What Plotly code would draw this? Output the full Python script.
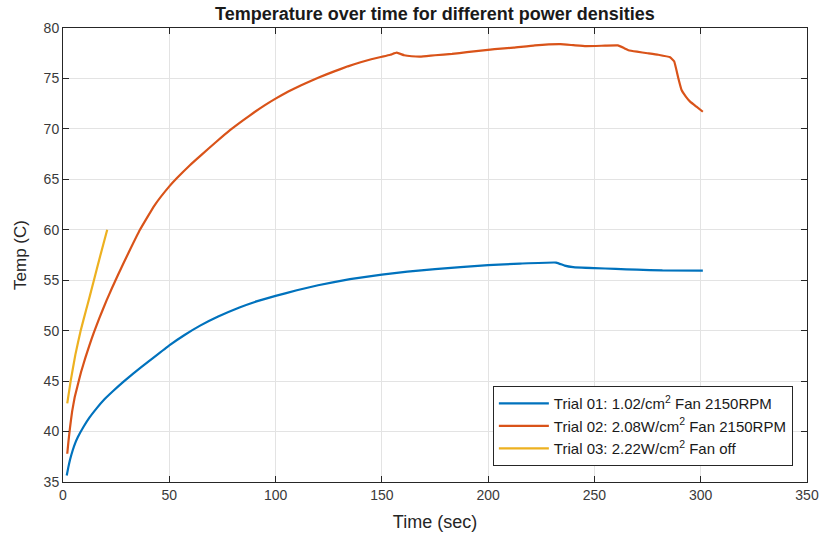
import plotly.graph_objects as go

# Trial 01: 1.02/cm2, fan 2150RPM
t1 = [1.75, 2.5, 3.3, 4.5, 5.65, 7, 9.6, 12.5, 15.8, 19.5, 23.7, 28.5, 33, 40.9, 50, 57, 64.5, 73, 83, 91,
      100, 110, 120, 135, 150, 162, 175, 187, 200, 215, 232, 236, 240, 250, 260, 270, 282, 301]
T1 = [35.64, 36.45, 37.2, 38.1, 38.8, 39.45, 40.45, 41.4, 42.3, 43.2, 44.05, 44.95, 45.75, 47.05, 48.55, 49.55, 50.5, 51.4, 52.3, 52.9,
      53.45, 54.0, 54.5, 55.1, 55.55, 55.85, 56.1, 56.3, 56.5, 56.65, 56.75, 56.45, 56.3, 56.2, 56.12, 56.05, 55.97, 55.95]

# Trial 02: 2.08W/cm2, fan 2150RPM
t2 = [2.0, 2.6, 3.3, 4.3, 5.5, 6.8, 8.5, 10.5, 12.5, 14.5, 17, 20.5, 23, 25.8, 31, 36.2, 43, 50, 53.5, 59.7,
      65, 72, 78.7, 85, 90, 95, 100, 106, 111.8, 116, 120.3, 127.6, 134, 140, 145, 150, 154, 157, 160.5, 164,
      168, 175, 183, 190, 201, 203, 212, 222, 234, 240, 246, 255, 261, 264, 266, 270, 275, 280, 285.6, 287.5,
      289.5, 291, 293, 295, 298, 301]
T2 = [37.8, 39.1, 40.4, 42.0, 43.4, 44.5, 45.9, 47.3, 48.6, 49.8, 51.2, 53.0, 54.2, 55.5, 57.8, 60.0, 62.4, 64.3, 65.1, 66.4,
      67.4, 68.7, 69.9, 70.9, 71.65, 72.35, 73.0, 73.7, 74.3, 74.7, 75.1, 75.7, 76.2, 76.6, 76.9, 77.15, 77.35, 77.55, 77.3, 77.2,
      77.16, 77.3, 77.43, 77.6, 77.85, 77.9, 78.05, 78.28, 78.4, 78.3, 78.2, 78.25, 78.27, 78.0, 77.8, 77.65, 77.5, 77.35, 77.1, 76.7,
      75.0, 73.85, 73.2, 72.7, 72.2, 71.7]

# Trial 03: 2.22W/cm2, fan off
t3 = [2.0, 3.6, 5.8, 8.3, 10.8, 12.7, 14.3, 17.5, 20.8]
T3 = [42.8, 45.0, 47.6, 50.0, 52.0, 53.5, 54.8, 57.4, 60.0]

names = [
    "Trial 01: 1.02/cm<sup>2</sup> Fan 2150RPM",
    "Trial 02: 2.08W/cm<sup>2</sup> Fan 2150RPM",
    "Trial 03: 2.22W/cm<sup>2</sup> Fan off",
]
colors = ["#0072BD", "#D95319", "#EDB120"]

fig = go.Figure()
for t, T, n, c in zip([t1, t2, t3], [T1, T2, T3], names, colors):
    fig.add_trace(go.Scatter(x=t, y=T, mode="lines", name=n,
                             line=dict(color=c, width=2.2, shape="spline", smoothing=0.3)))

FONT = "Liberation Sans, Arial"
axis_common = dict(
    showline=True, linecolor="#262626", linewidth=1, mirror="ticks",
    ticks="inside", ticklen=6, tickcolor="#262626", automargin=False,
    showgrid=True, gridcolor="#e3e3e3", gridwidth=1, zeroline=False,
    tickfont=dict(family=FONT, size=14, color="#3a3a3a"),
)

fig.update_layout(
    width=821, height=537,
    paper_bgcolor="white", plot_bgcolor="white",
    margin=dict(l=63, r=14, t=28, b=55),
    title=dict(text="<b>Temperature over time for different power densities</b>",
               xref="paper", x=0.5, xanchor="center", y=0.974, yanchor="middle",
               automargin=False,
               font=dict(family=FONT, size=18, color="#1a1a1a")),
    xaxis=dict(range=[0, 350], tickvals=[0, 50, 100, 150, 200, 250, 300, 350],
               title=dict(text="Time (sec)", standoff=13,
                          font=dict(family=FONT, size=18, color="#262626")),
               **axis_common),
    yaxis=dict(range=[35, 80], tickvals=[35, 40, 45, 50, 55, 60, 65, 70, 75, 80],
               title=dict(text="Temp (C)", standoff=12,
                          font=dict(family=FONT, size=17, color="#262626")),
               **axis_common),
    legend=dict(x=0.981, y=0.035, xanchor="right", yanchor="bottom",
                bgcolor="white", bordercolor="#262626", borderwidth=1,
                font=dict(family=FONT, size=15, color="#1a1a1a"),
                itemwidth=50, tracegroupgap=0),
    showlegend=True,
)

# remove the default page margin so the figure fills the window exactly
fig.write_html("out.html", config={"displayModeBar": False},
               post_script="document.body.style.margin='0px';document.body.style.overflow='hidden';")
